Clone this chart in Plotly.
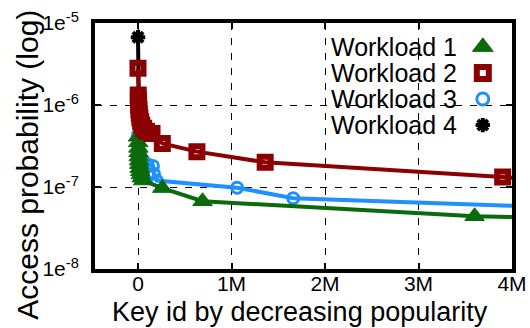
import plotly.graph_objects as go

# ---------------- data ----------------
w1_x = [0, 2000, 4000, 6000, 8000, 11000, 14000, 18000, 23000, 30000, 40000, 55000,
        260000, 690000, 3600000, 4000000]
w1_y = [4.1e-7, 3.5e-7, 3.0e-7, 2.65e-7, 2.35e-7, 2.1e-7, 1.9e-7, 1.7e-7, 1.55e-7,
        1.42e-7, 1.3e-7, 1.2e-7, 9.7e-8, 6.7e-8, 4.4e-8, 4.3e-8]

w2_x = [0, 2000, 4000, 7000, 10000, 14000, 20000, 28000, 40000, 60000, 90000,
        150000, 260000, 630000, 1360000, 3900000, 4000000]
w2_y = [2.8e-6, 1.32e-6, 1.15e-6, 1.0e-6, 8.8e-7, 7.8e-7, 7.0e-7, 6.3e-7, 5.7e-7,
        5.2e-7, 4.8e-7, 4.5e-7, 3.4e-7, 2.7e-7, 2.0e-7, 1.32e-7, 1.3e-7]

w3_x = [0, 5000, 15000, 30000, 60000, 100000, 160000, 170000, 200000,
        1060000, 1660000, 4000000]
w3_y = [4.3e-7, 3.3e-7, 2.7e-7, 2.3e-7, 2.05e-7, 1.9e-7, 1.8e-7, 1.45e-7, 1.2e-7,
        9.8e-8, 7.3e-8, 5.9e-8]

w4_x = [0, 1000, 3000, 6000, 10000, 20000, 40000, 80000, 140000, 200000]
w4_y = [6.7e-6, 2.6e-6, 1.4e-6, 1.0e-6, 8.0e-7, 6.5e-7, 5.5e-7, 4.6e-7, 4.3e-7, 3.6e-7]

names = ["Workload 1", "Workload 2", "Workload 3", "Workload 4"]

x_tickvals = [0, 1000000, 2000000, 3000000, 4000000]
x_ticktext = ["0", "1M", "2M", "3M", "4M"]
y_tickvals = [1e-8, 1e-7, 1e-6, 1e-5]
y_ticktext = ["1e<sup>-8</sup>", "1e<sup>-7</sup>", "1e<sup>-6</sup>", "1e<sup>-5</sup>"]

# ---------------- style ----------------
GREEN = "#0b6b0b"
RED = "#8b0000"
BLUE = "#1e90ff"
BLACK = "#000000"
FONT = "Liberation Sans, Arial, Helvetica, sans-serif"

fig = go.Figure()

def sizes(n, s):
    return [s] * (n - 1) + [0]

# draw order: black, blue, green, red
fig.add_trace(go.Scatter(
    x=w4_x, y=w4_y, mode="lines+markers", showlegend=False,
    line=dict(color=BLACK, width=4),
    marker=dict(symbol="asterisk-open", size=[12] + [0] * (len(w4_x) - 1),
                opacity=1, line=dict(color=BLACK, width=4))))
fig.add_trace(go.Scatter(
    x=w3_x, y=w3_y, mode="lines+markers", showlegend=False,
    line=dict(color=BLUE, width=4),
    marker=dict(symbol="circle-open", size=sizes(len(w3_x), 11), color=BLUE,
                opacity=1, line=dict(color=BLUE, width=3))))
fig.add_trace(go.Scatter(
    x=w1_x, y=w1_y, mode="lines+markers", showlegend=False,
    line=dict(color=GREEN, width=4),
    marker=dict(symbol="triangle-up", size=sizes(len(w1_x), 17), color=GREEN,
                opacity=1, line=dict(color=GREEN, width=1))))
fig.add_trace(go.Scatter(
    x=w2_x, y=w2_y, mode="lines+markers", showlegend=False,
    line=dict(color=RED, width=4),
    marker=dict(symbol="square-open", size=sizes(len(w2_x), 11), color=RED,
                opacity=1, line=dict(color=RED, width=6))))

# ---------------- manual key (text left, symbol right) ----------------
key_rows_y = [0.903, 0.797, 0.691, 0.585]
for name, yy in zip(names, key_rows_y):
    fig.add_annotation(x=0.872, y=yy, xref="paper", yref="paper", text=name,
                       showarrow=False, xanchor="right", yanchor="middle",
                       font=dict(family=FONT, size=25, color="black"))

key_symbols = [
    dict(symbol="triangle-up", size=18, color=GREEN, opacity=1,
         line=dict(color=GREEN, width=1)),
    dict(symbol="square-open", size=12, color=RED, opacity=1,
         line=dict(color=RED, width=6)),
    dict(symbol="circle-open", size=12, color=BLUE, opacity=1,
         line=dict(color=BLUE, width=3)),
    dict(symbol="asterisk-open", size=12, color=BLACK, opacity=1,
         line=dict(color=BLACK, width=4)),
]
for yy, mk in zip(key_rows_y, key_symbols):
    fig.add_trace(go.Scatter(x=[0.930], y=[yy], xaxis="x2", yaxis="y2",
                             mode="markers", marker=mk, showlegend=False,
                             hoverinfo="skip"))

# white key background hiding the grid
fig.add_shape(type="rect", xref="paper", yref="paper", x0=0.48, x1=0.99,
              y0=0.504, y1=0.984, fillcolor="white", line=dict(width=0),
              layer="between")

# axis titles
fig.add_annotation(x=0.492, y=-0.175, xref="paper", yref="paper",
                   text="Key id by decreasing popularity", showarrow=False,
                   xanchor="center", yanchor="middle",
                   font=dict(family=FONT, size=27, color="black"))
fig.add_annotation(x=-0.161, y=0.423, xref="paper", yref="paper",
                   text="Access probability (log)", showarrow=False, textangle=-90,
                   xanchor="center", yanchor="middle",
                   font=dict(family=FONT, size=30, color="black"))

axis_common = dict(showline=True, linecolor="black", linewidth=4, mirror="ticks",
                   ticks="inside", ticklen=6, tickwidth=1.5, tickcolor="black",
                   showgrid=True, gridcolor="black", gridwidth=1.2,
                   griddash="7px,8px", zeroline=False, automargin=False,
                   tickfont=dict(family=FONT, size=21, color="black"))

fig.update_layout(
    width=530, height=328,
    margin=dict(l=95, r=18, t=23, b=59, autoexpand=False),
    paper_bgcolor="white", plot_bgcolor="white",
    showlegend=False,
    xaxis=dict(range=[-460000, 4000000], tickvals=x_tickvals, ticktext=x_ticktext,
               ticklabelstandoff=-7, **axis_common),
    yaxis=dict(type="log", range=[-8, -5], tickvals=y_tickvals, ticktext=y_ticktext,
               ticklabelstandoff=8, **axis_common),
    xaxis2=dict(overlaying="x", range=[0, 1], visible=False, automargin=False),
    yaxis2=dict(overlaying="y", range=[0, 1], visible=False, automargin=False),
)

fig.write_html("out.html")
